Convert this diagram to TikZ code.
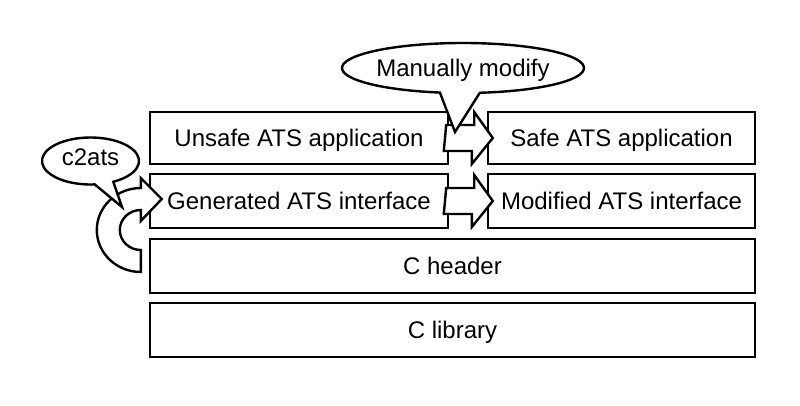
\documentclass[tikz,border=0pt]{standalone}
\usepackage{fontspec}
\setmainfont{Liberation Sans}
\usetikzlibrary{calc}
\begin{document}
\begin{tikzpicture}[x=1pt,y=1pt, line join=miter,
  lw/.style={line width=2.4pt},
  txt/.style={font=\fontsize{24}{28}\selectfont},
  box/.style={draw, lw, txt, inner sep=0pt, text height=17.2pt, text depth=0pt},
  blk/.style={draw, lw, fill=white}]
\fill[white] (0,0) rectangle (800,405);
\useasboundingbox (0,0) rectangle (800,405);
% boxes
\node[box, minimum width=298pt, minimum height=52pt] (unsafe) at (299,267) {Unsafe ATS application};
\node[box, minimum width=267pt, minimum height=52pt] (safe) at (621.5,267) {Safe ATS application};
\node[box, minimum width=298pt, minimum height=54pt] (gen) at (299,204) {Generated ATS interface};
\node[box, minimum width=267pt, minimum height=54pt] (mod) at (621.5,204) {Modified ATS interface};
\node[box, minimum width=605pt, minimum height=54pt] (hdr) at (452.5,139) {C header};
\node[box, minimum width=605pt, minimum height=54pt] (lib) at (452.5,75) {C library};
% straight block arrows
\coordinate (a1s) at ($(unsafe.east)+(-3,0)$);
\coordinate (a1t) at ($(safe.west)+(6,0)$);
\draw[blk] ($(a1s)+(0,13)$) -- ++(28,0) -- ++(0,13) -- (a1t) -- ++(-21,-26) -- ++(0,13) -- ++(-28,0) -- cycle;
\coordinate (a2s) at ($(gen.east)+(-3,0)$);
\coordinate (a2t) at ($(mod.west)+(6,0)$);
\draw[blk] ($(a2s)+(0,13)$) -- ++(28,0) -- ++(0,13) -- (a2t) -- ++(-21,-26) -- ++(0,13) -- ++(-28,0) -- cycle;
% curved block arrow (C header -> generated interface)
\coordinate (cc) at ($(hdr.west)+(-8,36)$);
\draw[blk] ($(cc)+(0,42)$) arc[start angle=90, end angle=270, x radius=44, y radius=42]
  -- ($(cc)+(0,-20)$) arc[start angle=270, end angle=90, x radius=21, y radius=20]
  -- ($(cc)+(0,9)$) -- ($(gen.west)+(13,2)$) -- ($(cc)+(0,52)$) -- cycle;
% speech bubbles
\draw[blk] ($(463,337)+(278:121 and 25)$) arc[start angle=278, end angle=619, x radius=121, y radius=25] -- (455,273) -- cycle;
\node[txt, anchor=base, inner sep=0pt] (mm) at (463,328) {Manually modify};
\draw[blk] ($(90.5,244)+(298:48.5 and 23.5)$) arc[start angle=298, end angle=635, x radius=48.5, y radius=23.5] -- (122,198) -- cycle;
\node[txt, anchor=base, inner sep=0pt] (c2) at (90.5,240) {c2ats};
\end{tikzpicture}
\end{document}
